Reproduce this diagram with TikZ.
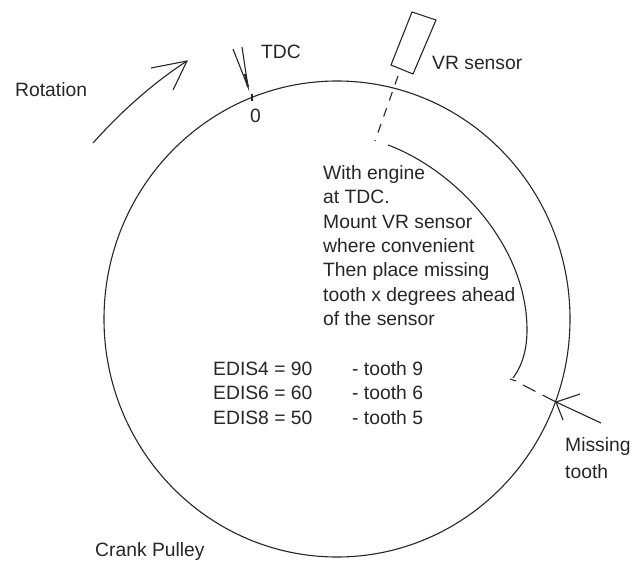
\documentclass[tikz,border=0pt]{standalone}
\usepackage{fontspec}
\setmainfont{Liberation Sans}
\tikzset{
  lbl/.style={anchor=west,inner sep=0pt,font=\fontsize{19.3}{24.3}\selectfont,align=left,text=black!85},
  blk/.style={lbl,anchor=north west},
  ln/.style={draw=black!85,line width=1.1pt},
  dashln/.style={ln,dash pattern=on 9pt off 8pt}
}
\begin{document}
\begin{tikzpicture}[x=1pt,y=-1pt]
\useasboundingbox (0,0) rectangle (633,565);
\draw[ln] (337,319) ellipse [x radius=233, y radius=238];
% Rotation arrow
\coordinate (rs) at (93,143);
\coordinate (rt) at (187,61);
\draw[ln] (rs) .. controls (118,115) and (150,85) .. (rt);
\draw[ln] (151,68) -- (rt) -- (173,90);
\node[lbl] (rot) at (15,90) {Rotation};
% TDC
\coordinate (p1) at (233,49);
\coordinate (p2) at (242,47);
\coordinate (p3) at (248,87);
\draw[ln] (p1) -- (p3) -- (p2);
\draw[ln,line width=2pt] (p3) -- (245,74);
\draw[ln] (252,94) -- (252,101);
\node[lbl] (tdc) at (261,52) {TDC};
\node[lbl] (zero) at (250,116) {0};
% VR sensor
\draw[ln] (412,12) -- (436,20) -- (413,74) -- (391,65) -- cycle;
\coordinate (vs) at (398,76);
\coordinate (ve) at (375,141);
\draw[dashln] (vs) -- (ve);
\node[lbl] (vr) at (432,63) {VR sensor};
% Long arc
\coordinate (as) at (388,145);
\coordinate (am) at (527,330);
\coordinate (ae) at (513,378);
\draw[ln] (as) .. controls (455,170) and (527,245) .. (am) .. controls (527,350) and (522,366) .. (ae);
\draw[ln] (510,379) -- (516,381);
\draw[ln,dash pattern=on 14pt off 8pt] (523,385) -- (556,402);
% Missing tooth
\coordinate (mt) at (556,402);
\draw[ln] (601,423) -- (mt);
\draw[ln] (580,394) -- (mt) -- (563,420);
\node[lbl] (mi) at (565,447) {Missing};
\node[lbl] (to) at (565,472) {tooth};
% Texts
\node[blk] (txt) at (323,165.5) {With engine\\at TDC.\\Mount VR sensor\\where convenient\\Then place missing\\tooth x degrees ahead\\of the sensor};
\node[lbl] (e4) at (213,369) {EDIS4 = 90};
\node[lbl] (e6) at (213,393) {EDIS6 = 60};
\node[lbl] (e8) at (213,418) {EDIS8 = 50};
\node[lbl] (t9) at (352,369) {- tooth 9};
\node[lbl] (t6) at (352,393) {- tooth 6};
\node[lbl] (t5) at (352,418) {- tooth 5};
\node[lbl] (cp) at (95,552) {Crank Pulley};
\end{tikzpicture}
\end{document}
